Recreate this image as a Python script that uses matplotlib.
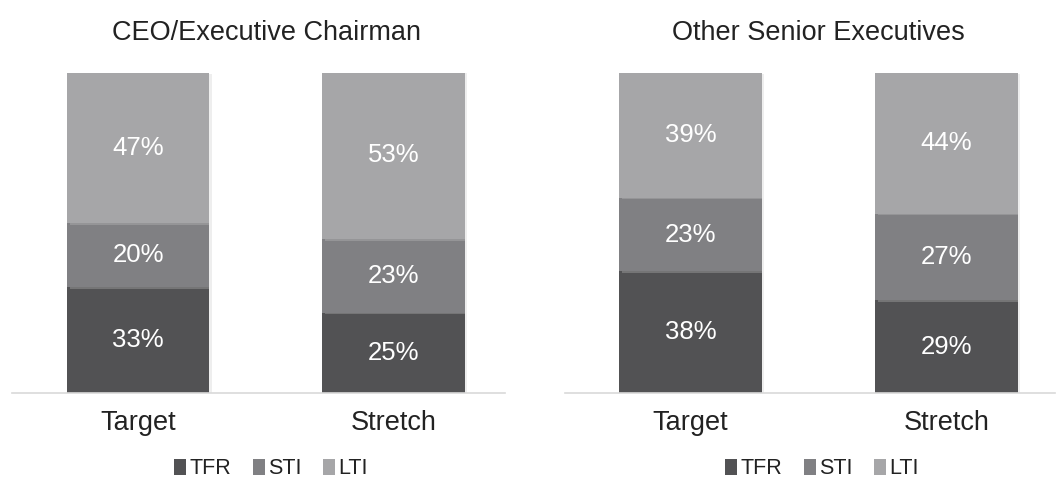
import matplotlib
matplotlib.use("Agg")
import matplotlib.pyplot as plt
import matplotlib.patheffects as pe
from matplotlib.patches import Patch

plt.rcParams['font.family'] = ['Liberation Sans', 'DejaVu Sans']

# data
categories = ['Target', 'Stretch']
components = ['TFR', 'STI', 'LTI']
colors = ['#525254', '#808083', '#a6a6a8']

titles = ['CEO/Executive Chairman', 'Other Senior Executives']
ceo_tfr = [33, 25]
ceo_sti = [20, 23]
ceo_lti = [47, 53]
oth_tfr = [38, 29]
oth_sti = [23, 27]
oth_lti = [39, 44]

panels = [
    (titles[0], [ceo_tfr, ceo_sti, ceo_lti]),
    (titles[1], [oth_tfr, oth_sti, oth_lti]),
]

fig = plt.figure(figsize=(10.59, 4.8), dpi=100)

W, H = 1059, 480
# axes rectangles in pixels: (left, right)
ax_px = [(12, 505), (565, 1055)]
bottom_px, top_px = 393, 73
xlims = [(-0.494, 1.437), (-0.49, 1.425)]

shadow = [pe.SimplePatchShadow(offset=(2, -1), shadow_rgbFace='#c8c8c8', alpha=0.3), pe.Normal()]

for i, (title, series) in enumerate(panels):
    l, r = ax_px[i]
    ax = fig.add_axes([l / W, (H - bottom_px) / H, (r - l) / W, (bottom_px - top_px) / H])
    x = range(len(categories))
    base = [0] * len(categories)
    for name, vals, col in zip(components, series, colors):
        bars = ax.bar(x, [v / 100 for v in vals], bottom=[b / 100 for b in base],
                      width=0.557, color=col, label=name, zorder=2)
        for b in bars:
            b.set_path_effects(shadow)
        for xi, v, b0 in zip(x, vals, base):
            ax.text(xi, (b0 + v / 2) / 100, f'{v}%', ha='center', va='center',
                    color='white', fontsize=18.5, zorder=3)
        base = [b0 + v for b0, v in zip(base, vals)]
    ax.set_ylim(0, 1)
    ax.set_xlim(*xlims[i])
    ax.set_yticks([])
    ax.set_xticks(list(x))
    ax.set_xticklabels(categories, fontsize=19.5, color='#222222')
    ax.tick_params(axis='x', length=0, pad=12)
    for s in ['top', 'right', 'left']:
        ax.spines[s].set_visible(False)
    ax.spines['bottom'].set_color('#d9d9d9')
    ax.spines['bottom'].set_linewidth(1.2)
    ax.set_title(title, fontsize=19.5, color='#222222', pad=24, x=0.5 + 8 / (r - l))
    handles = [Patch(facecolor=c, label=n) for n, c in zip(components, colors)]
    cx = [271, 822][i]
    fig.legend(handles=handles, loc='center', bbox_to_anchor=(cx / W, (H - 469) / H),
               ncol=3, frameon=False, fontsize=15.5, handlelength=0.55, handleheight=0.7,
               handletextpad=0.15, columnspacing=1.0, labelcolor='#222222')

fig.savefig('out.png', dpi=100)
